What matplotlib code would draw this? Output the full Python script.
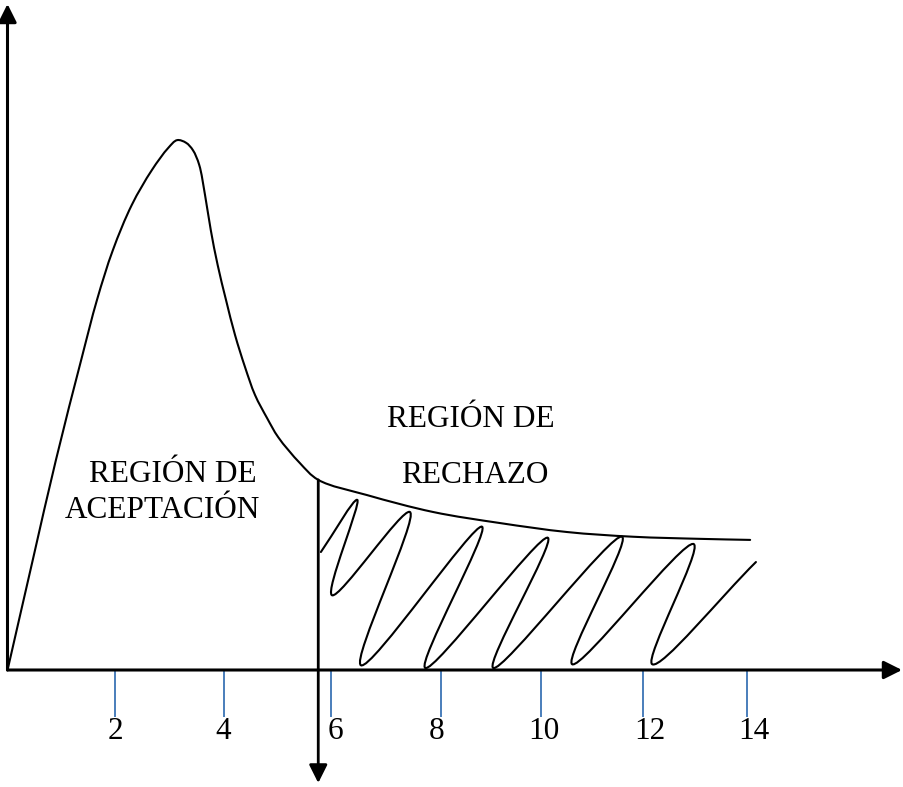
import numpy as np
import matplotlib
matplotlib.use("Agg")
import matplotlib.pyplot as plt
from matplotlib.path import Path
from matplotlib.patches import PathPatch

# ---- data (units of the drawing's horizontal scale) ----
curve_x = [0.01, 0.48, 0.92, 1.40, 1.70, 2.00, 2.36, 2.74, 3.05, 3.22,
           3.39, 3.52, 3.64, 3.75, 3.86, 3.99, 4.15, 4.32, 4.51, 4.70, 4.93,
           5.14, 5.55, 5.90, 6.83, 8.08, 9.35, 10.62, 11.88, 13.15, 14.10]
curve_y = [0.04, 2.09, 3.99, 5.89, 7.03, 7.97, 8.83, 9.49, 9.91, 10.06,
           10.01, 9.87, 9.59, 9.02, 8.35, 7.69, 7.02, 6.36, 5.75, 5.22, 4.78,
           4.42, 3.93, 3.61, 3.32, 3.00, 2.79, 2.62, 2.53, 2.49, 2.47]

hatch_x = [5.95, 6.64, 6.16, 7.64, 6.71, 9.01, 7.93, 10.26, 9.22, 11.67, 10.72,
           13.03, 12.24, 14.21]
hatch_y = [2.24, 3.23, 1.42, 3.00, 0.09, 2.72, 0.04, 2.51, 0.04, 2.53, 0.11,
           2.39, 0.11, 2.05]

critical_x = 5.90
critical_top = 3.61

tick_pos = [2.04, 4.11, 6.14, 8.23, 10.13, 12.06, 14.04]
label_pos = [2.04, 4.09, 6.22, 8.14, 10.19, 12.20, 14.17]
tick_labels = ["2", "4", "6", "8", "10", "12", "14"]

texts = [
    ("REGIÓN DE", 3.14, 3.57),
    ("ACEPTACIÓN", 2.95, 2.89),
    ("REGIÓN DE", 8.80, 4.61),
    ("RECHAZO", 8.88, 3.55),
]

# ---- layout ----
W, H = 904, 787
s = 52.67          # pixels per unit
ox, oy = 7.5, 670  # origin in pixels

fig = plt.figure(figsize=(W / 100, H / 100), dpi=100)
ax = fig.add_axes([0, 0, 1, 1])
ax.set_xlim(-ox / s, (W - ox) / s)
ax.set_ylim(-(H - oy) / s, oy / s)
ax.axis("off")


def smooth_path(xs, ys, alpha=0.5):
    """Centripetal Catmull-Rom through the given points, as cubic Bezier path."""
    pts = np.column_stack([xs, ys]).astype(float)
    pts = np.vstack([2 * pts[0] - pts[1], pts, 2 * pts[-1] - pts[-2]])
    d = np.linalg.norm(np.diff(pts, axis=0), axis=1) ** alpha
    t = np.concatenate([[0], np.cumsum(d)])
    verts = [pts[1]]
    codes = [Path.MOVETO]
    for i in range(1, len(pts) - 2):
        p0, p1, p2, p3 = pts[i - 1], pts[i], pts[i + 1], pts[i + 2]
        t0, t1, t2, t3 = t[i - 1], t[i], t[i + 1], t[i + 2]
        m1 = (t2 - t1) * ((p1 - p0) / (t1 - t0) - (p2 - p0) / (t2 - t0)
                          + (p2 - p1) / (t2 - t1))
        m2 = (t2 - t1) * ((p2 - p1) / (t2 - t1) - (p3 - p1) / (t3 - t1)
                          + (p3 - p2) / (t3 - t2))
        verts += [p1 + m1 / 3.0, p2 - m2 / 3.0, p2]
        codes += [Path.CURVE4] * 3
    return Path(verts, codes)


def arrow(x0, y0, x1, y1, lw):
    ax.annotate("", xy=(x1, y1), xytext=(x0, y0),
                arrowprops=dict(arrowstyle="-|>,head_length=1.0,head_width=0.5",
                                mutation_scale=11, lw=lw, color="black",
                                shrinkA=0, shrinkB=0))


# axes
arrow(0, 0, (902 - ox) / s, 0, 2.2)
arrow(0, 0, 0, (oy - 4) / s, 2.2)

# ticks (blue)
tick_len = 47 / s
for tp in tick_pos:
    ax.plot([tp, tp], [-0.02, -tick_len], color="#4A7EBB", lw=1.4,
            solid_capstyle="butt")
for lp, lab in zip(label_pos, tick_labels):
    ax.text(lp, -1.31, lab, ha="center", va="baseline",
            family=["Liberation Serif", "DejaVu Serif"], fontsize=22.5)

# distribution curve
ax.add_patch(PathPatch(smooth_path(curve_x, curve_y), fill=False,
                       ec="black", lw=1.5, capstyle="round"))

# critical value line with arrow downward
arrow(critical_x, critical_top, critical_x, -(783 - oy) / s, 2.0)

# rejection hatch
ax.add_patch(PathPatch(smooth_path(hatch_x, hatch_y), fill=False,
                       ec="black", lw=1.5, capstyle="round"))

for t, x, y in texts:
    ax.text(x, y, t, ha="center", va="baseline",
            family=["Liberation Serif", "DejaVu Serif"], fontsize=22.5)

fig.savefig("out.png", dpi=100, facecolor="white")
